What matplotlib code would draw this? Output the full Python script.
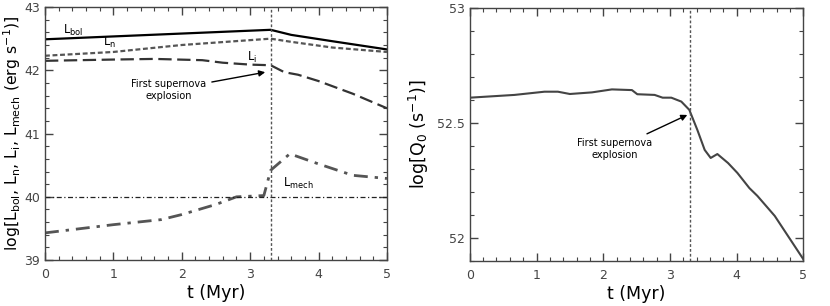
import matplotlib.pyplot as plt
from matplotlib.ticker import MultipleLocator

# ==============================
# DATA
# ==============================
t_bol = [0.0, 3.3, 3.6, 4.2, 5.0]
L_bol = [42.49, 42.64, 42.56, 42.46, 42.33]

t_n = [0.0, 1.0, 2.0, 3.3, 3.6, 4.2, 5.0]
L_n = [42.23, 42.29, 42.40, 42.50, 42.45, 42.36, 42.29]

t_i = [0.0, 1.0, 1.6, 2.3, 2.6, 3.0, 3.3, 3.5, 3.7, 4.0, 4.5, 5.0]
L_i = [42.15, 42.17, 42.18, 42.16, 42.12, 42.09, 42.08, 41.97, 41.93, 41.83, 41.63, 41.40]

t_mech = [0.0, 1.0, 1.7, 2.0, 2.5, 2.8, 3.2, 3.3, 3.58, 4.0, 4.5, 5.0]
L_mech = [39.43, 39.56, 39.64, 39.72, 39.88, 40.0, 40.02, 40.42, 40.68, 40.52, 40.34, 40.29]

t_q = [0.0, 0.67, 1.12, 1.32, 1.5, 1.83, 2.13, 2.43, 2.51, 2.77, 2.89, 3.02, 3.17,
       3.29, 3.41, 3.52, 3.61, 3.71, 3.87, 4.01, 4.19, 4.31, 4.57, 5.0]
Q0 = [52.61, 52.622, 52.636, 52.636, 52.626, 52.633, 52.646, 52.643, 52.625, 52.622,
      52.61, 52.61, 52.593, 52.557, 52.47, 52.383, 52.348, 52.365, 52.326, 52.283,
      52.217, 52.183, 52.096, 51.907]

t_sn = 3.3
L_ref = 40.0

GREY = '#444444'

fig = plt.figure(figsize=(8.3, 3.06), dpi=100)
ax1 = fig.add_axes([0.0542, 0.150, 0.412, 0.827])
ax2 = fig.add_axes([0.566, 0.147, 0.402, 0.827])


def style_axes(ax):
    ax.tick_params(which='both', direction='in', top=True, right=True,
                   colors=GREY, labelsize=9, labelcolor=GREY)
    ax.tick_params(which='major', length=6, width=1)
    ax.tick_params(which='minor', length=3, width=0.8)
    ax.tick_params(axis='x', pad=6)
    for s in ax.spines.values():
        s.set_color(GREY)
        s.set_linewidth(1)
    ax.xaxis.set_major_locator(MultipleLocator(1))
    ax.xaxis.set_minor_locator(MultipleLocator(0.2))
    ax.set_xlim(0, 5)
    ax.set_xlabel('t (Myr)', fontsize=12.5, labelpad=2)


# --- Left panel: luminosities ---
ax1.plot(t_bol, L_bol, color='black', lw=1.6)
ax1.plot(t_n, L_n, color='#555555', lw=1.6, dashes=(2.2, 1.2))
ax1.plot(t_i, L_i, color='#333333', lw=1.6, dashes=(6, 2.5))
ax1.plot(t_mech, L_mech, color='#555555', lw=2.0, dashes=(5, 2.5, 1.2, 2.5))
ax1.axhline(L_ref, color='#222222', lw=0.9, dashes=(4, 2, 1, 2))
ax1.axvline(t_sn, color='#555555', lw=1.0, dashes=(2, 1.5))

ax1.text(0.26, 42.58, r'L$_{\rm bol}$', fontsize=8.5)
ax1.text(0.85, 42.39, r'L$_{\rm n}$', fontsize=8.5)
ax1.text(2.95, 42.15, r'L$_{\rm i}$', fontsize=8.5)
ax1.text(3.48, 40.16, r'L$_{\rm mech}$', fontsize=8.5)
ax1.annotate('First supernova\nexplosion', xy=(3.22, 41.97), xytext=(1.81, 41.69),
             ha='center', va='center', fontsize=7, linespacing=1.3,
             arrowprops=dict(arrowstyle='-|>', color='black', lw=1,
                             mutation_scale=9, shrinkA=2, shrinkB=0))

ax1.set_ylim(39, 43)
ax1.yaxis.set_major_locator(MultipleLocator(1))
ax1.yaxis.set_minor_locator(MultipleLocator(0.2))
style_axes(ax1)
ax1.set_ylabel(r'log[L$_{\rm bol}$, L$_{\rm n}$, L$_{\rm i}$, L$_{\rm mech}$ (erg s$^{-1}$)]',
               fontsize=11.3, labelpad=1)

# --- Right panel: ionizing photon rate ---
ax2.plot(t_q, Q0, color='#444444', lw=1.5)
ax2.axvline(t_sn, color='#555555', lw=1.0, dashes=(2, 1.5))
ax2.annotate('First supernova\nexplosion', xy=(3.26, 52.535), xytext=(2.17, 52.387),
             ha='center', va='center', fontsize=7, linespacing=1.3,
             arrowprops=dict(arrowstyle='-|>', color='black', lw=1,
                             mutation_scale=9, shrinkA=2, shrinkB=0))

ax2.set_ylim(51.9, 53)
ax2.set_yticks([52, 52.5, 53])
ax2.set_yticklabels(['52', '52.5', '53'])
ax2.yaxis.set_minor_locator(MultipleLocator(0.1))
style_axes(ax2)
ax2.set_ylabel(r'log[Q$_0$ (s$^{-1}$)]', fontsize=12.5, labelpad=4)

plt.savefig('out.png', dpi=100)
